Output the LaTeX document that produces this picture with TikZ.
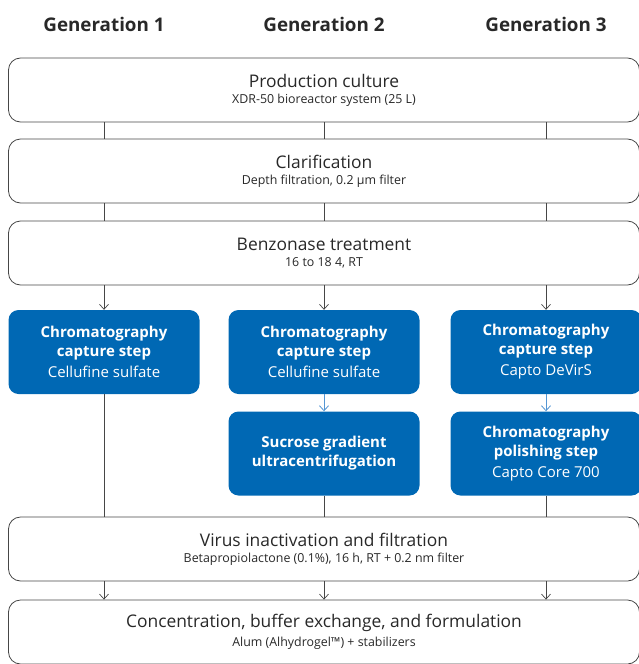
\documentclass[tikz,border=0pt]{standalone}
\usepackage{fontspec}
\setmainfont{Open Sans}
\usetikzlibrary{positioning,arrows.meta}

\definecolor{geblue}{RGB}{0,104,180}
\definecolor{arrowblue}{RGB}{84,150,212}
\definecolor{linegray}{RGB}{70,70,70}
\definecolor{textgray}{RGB}{40,40,40}

\newcommand{\stagehead}{\fontsize{17.4}{20}\selectfont}
\newcommand{\stagesub}{\fontsize{12.4}{14}\selectfont}
\newcommand{\chromfont}{\fontsize{15}{19}\selectfont}

\tikzset{
  genlabel/.style={font=\bfseries\fontsize{18.8}{20}\selectfont, text=textgray},
  stage/.style={draw=linegray, line width=0.8pt, rounded corners=12pt,
    minimum width=631pt, minimum height=64pt, align=center, text=textgray},
  chrom/.style={fill=geblue, rounded corners=10pt, minimum width=191pt,
    minimum height=84pt, align=center, text=white, font=\chromfont},
  flow/.style={draw=linegray, line width=0.7pt},
  flowarrow/.style={flow, -{Straight Barb[length=5pt,width=9pt]}},
  bluearrow/.style={draw=arrowblue, line width=0.8pt, -{Straight Barb[length=5pt,width=9pt]}}
}

\begin{document}
\begin{tikzpicture}[x=1pt,y=-1pt]
    \useasboundingbox (0,0) rectangle (639,664);

    % column headings
    \node[genlabel] (gen1) at (104,24) {Generation 1};
    \node[genlabel] (gen2) at (324,24) {Generation 2};
    \node[genlabel] (gen3) at (546,24) {Generation 3};

    % shared steps
    \node[stage] (prod) at (324,90) {{\stagehead Production culture}\\[4pt]{\stagesub XDR-50 bioreactor system (25 L)}};
    \node[stage] (clar) at (324,171) {{\stagehead Clarification}\\[4pt]{\stagesub Depth filtration, 0.2 µm filter}};
    \node[stage] (benz) at (324,253) {{\stagehead Benzonase treatment}\\[4pt]{\stagesub 16 to 18 4, RT}};

    % purification per generation
    \node[chrom] (cap1) at (104,352) {\textbf{Chromatography}\\\textbf{capture step}\\[2pt]Cellufine sulfate};
    \node[chrom] (cap2) at (324,352) {\textbf{Chromatography}\\\textbf{capture step}\\[2pt]Cellufine sulfate};
    \node[chrom] (cap3) at (546,352) {\textbf{Chromatography}\\\textbf{capture step}\\[2pt]Capto DeVirS};
    \node[chrom] (sucrose) at (324,453.5) {\textbf{Sucrose gradient}\\\textbf{ultracentrifugation}};
    \node[chrom] (polish) at (546,453.5) {\textbf{Chromatography}\\\textbf{polishing step}\\[2pt]Capto Core 700};

    \node[stage] (virus) at (324,549) {{\stagehead Virus inactivation and filtration}\\[4pt]{\stagesub Betapropiolactone (0.1\%), 16 h, RT + 0.2 nm filter}};
    \node[stage] (conc) at (324,632) {{\stagehead Concentration, buffer exchange, and formulation}\\[4pt]{\stagesub Alum (Alhydrogel™) + stabilizers}};

    \foreach \g in {gen1,gen2,gen3} {
        \draw[flow] (prod.south -| \g) -- (clar.north -| \g);
        \draw[flow] (clar.south -| \g) -- (benz.north -| \g);
        \draw[flowarrow] (virus.south -| \g) -- (conc.north -| \g);
    }

    \draw[flowarrow] (benz.south -| cap1) -- (cap1.north);
    \draw[flowarrow] (benz.south -| cap2) -- (cap2.north);
    \draw[flowarrow] (benz.south -| cap3) -- (cap3.north);

    \draw[bluearrow] (cap2.south) -- (sucrose.north);
    \draw[bluearrow] (cap3.south) -- (polish.north);

    \draw[flow] (cap1.south) -- (virus.north -| cap1);
    \draw[flow] (sucrose.south) -- (virus.north -| sucrose);
    \draw[flow] (polish.south) -- (virus.north -| polish);
\end{tikzpicture}
\end{document}
